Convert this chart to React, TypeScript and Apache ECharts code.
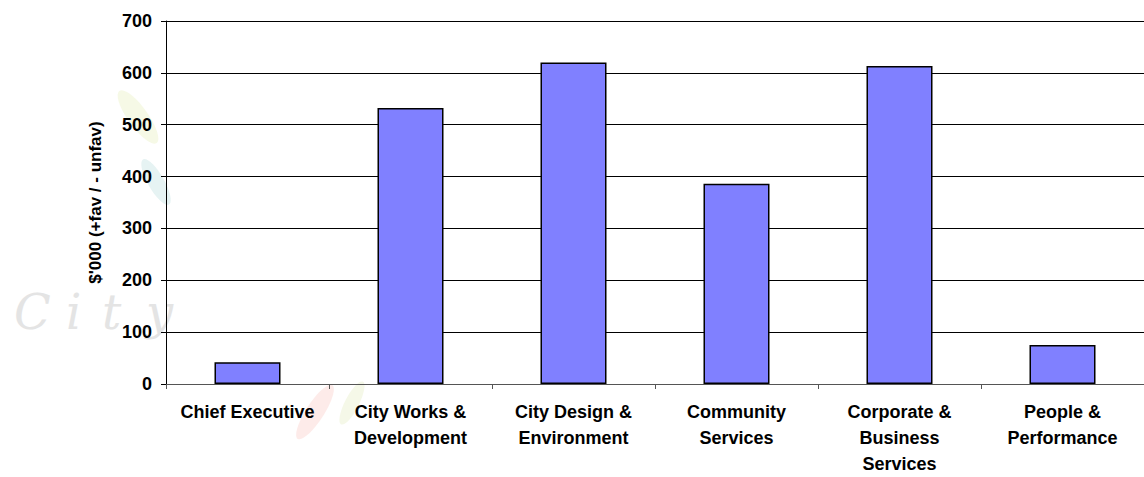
import React, { useEffect, useRef } from "react";
import * as echarts from "echarts";

const categories = [
  "Chief Executive",
  "City Works &\nDevelopment",
  "City Design &\nEnvironment",
  "Community\nServices",
  "Corporate &\nBusiness\nServices",
  "People &\nPerformance",
];
const values = [42, 532, 620, 386, 613, 75];
const yTicks = [0, 100, 200, 300, 400, 500, 600, 700];
const yAxisTitle = "$'000 (+fav / - unfav)";
const watermarkLetters = ["C", "i", "t", "y"];

export default function App() {
  const ref = useRef<HTMLDivElement>(null);
  useEffect(() => {
    if (!ref.current) return;
    const chart = echarts.init(ref.current, null, { renderer: "svg" });
    const font = "'Liberation Sans', Arial, sans-serif";
    const letterX = [14, 66, 102, 146];
    chart.setOption({
      animation: false,
      backgroundColor: "#ffffff",
      graphic: [
        {
          type: "ellipse",
          z: -10,
          shape: { cx: 0, cy: 0, rx: 32, ry: 10 },
          x: 138,
          y: 117,
          rotation: -0.95,
          style: { fill: "rgba(215,228,140,0.22)" },
        },
        {
          type: "ellipse",
          z: -10,
          shape: { cx: 0, cy: 0, rx: 26, ry: 8 },
          x: 156,
          y: 182,
          rotation: -1.05,
          style: { fill: "rgba(130,195,195,0.2)" },
        },
        {
          type: "ellipse",
          z: -10,
          shape: { cx: 0, cy: 0, rx: 32, ry: 9 },
          x: 315,
          y: 412,
          rotation: 1.0,
          style: { fill: "rgba(240,130,120,0.16)" },
        },
        {
          type: "ellipse",
          z: -10,
          shape: { cx: 0, cy: 0, rx: 24, ry: 7 },
          x: 352,
          y: 403,
          rotation: 1.1,
          style: { fill: "rgba(205,222,140,0.2)" },
        },
        ...watermarkLetters.map((ch, i) => ({
          type: "text",
          z: -10,
          x: letterX[i],
          y: 288,
          style: {
            text: ch,
            font: "italic 48px 'DejaVu Serif', 'Liberation Serif', serif",
            fill: "#e4e4e4",
          },
        })),
      ],
      grid: { left: 166, right: -2, top: 21, bottom: 90, containLabel: false },
      xAxis: {
        type: "category",
        data: categories,
        axisLine: { show: true, lineStyle: { color: "#555555", width: 1 } },
        axisTick: { show: true, length: 5, lineStyle: { color: "#555555" } },
        axisLabel: {
          interval: 0,
          margin: 15,
          color: "#000000",
          fontFamily: font,
          fontWeight: "bold",
          fontSize: 18,
          lineHeight: 26,
        },
      },
      yAxis: {
        type: "value",
        min: 0,
        max: 700,
        interval: 100,
        name: yAxisTitle,
        nameLocation: "middle",
        nameGap: 62,
        nameRotate: 90,
        nameTextStyle: {
          color: "#000000",
          fontFamily: font,
          fontWeight: "bold",
          fontSize: 17,
        },
        axisLine: { show: true, lineStyle: { color: "#000000", width: 1 } },
        axisTick: { show: true, length: 5, lineStyle: { color: "#000000" } },
        axisLabel: {
          margin: 14,
          color: "#000000",
          fontFamily: font,
          fontWeight: "bold",
          fontSize: 18,
          formatter: (v: number) => (yTicks.includes(v) ? String(v) : ""),
        },
        splitLine: { show: true, lineStyle: { color: "#000000", width: 1 } },
      },
      series: [
        {
          type: "bar",
          data: values,
          barWidth: "40.5%",
          itemStyle: { color: "#8080ff", borderColor: "#000000", borderWidth: 1.5 },
        },
      ],
    });
    return () => chart.dispose();
  }, []);
  return (
    <div
      ref={ref}
      style={{ position: "fixed", left: 0, top: 0, width: 1144, height: 477 }}
    />
  );
}
